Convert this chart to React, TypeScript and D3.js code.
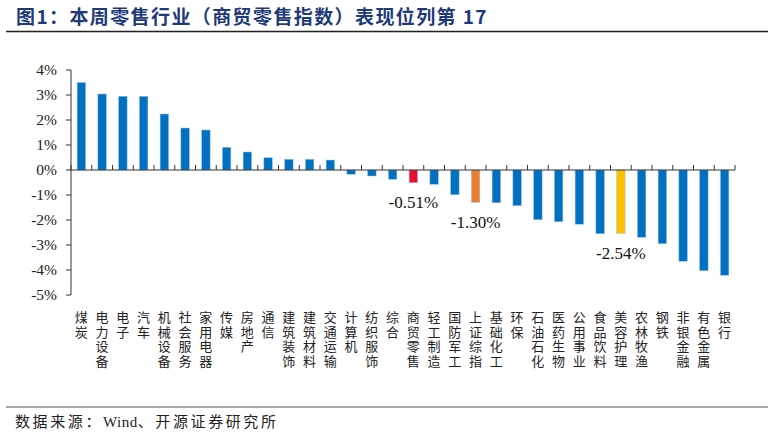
import * as d3 from "d3";

const categories = [
  "煤炭", "电力设备", "电子", "汽车", "机械设备", "社会服务", "家用电器", "传媒",
  "房地产", "通信", "建筑装饰", "建筑材料", "交通运输", "计算机", "纺织服饰", "综合",
  "商贸零售", "轻工制造", "国防军工", "上证综指", "基础化工", "环保", "石油石化", "医药生物",
  "公用事业", "食品饮料", "美容护理", "农林牧渔", "钢铁", "非银金融", "有色金属", "银行",
];
const values = [
  3.5, 3.04, 2.95, 2.95, 2.24, 1.68, 1.6, 0.91,
  0.72, 0.49, 0.43, 0.43, 0.4, -0.17, -0.24, -0.37,
  -0.51, -0.57, -0.99, -1.3, -1.31, -1.43, -1.99, -2.07,
  -2.17, -2.55, -2.54, -2.69, -2.95, -3.65, -4.03, -4.21,
];
const yTicks = [4, 3, 2, 1, 0, -1, -2, -3, -4, -5];
const highlight: Record<string, string> = {
  "商贸零售": "#E8102C",
  "上证综指": "#ED7D31",
  "美容护理": "#FFC000",
};
const labelled = ["商贸零售", "上证综指", "美容护理"];

const W = 774;
const H = 436;
const serif = "'Liberation Serif', 'Times New Roman', serif";
const cjk = "'Noto Sans CJK SC', sans-serif";

export default function App() {
  const x = d3.scaleBand<string>()
    .domain(categories)
    .range([71, 735])
    .paddingInner(0.59)
    .paddingOuter(0.295);
  const y = d3.scaleLinear().domain([-5, 4]).range([295, 70]);
  const step = x.step();
  const x0 = 71;

  return (
    <svg width={W} height={H} style={{ position: "absolute", left: 0, top: 0, background: "#fff" }}>
      <text x={16} y={24} fill="#1F3A7A" fontFamily={cjk} fontWeight="bold" fontSize={19} letterSpacing={1.4}>
        图1：本周零售行业（商贸零售指数）表现位列第 17
      </text>
      <line x1={6} x2={768} y1={31.5} y2={31.5} stroke="#222" strokeWidth={1.5} />

      {/* y axis */}
      <line x1={x0} x2={x0} y1={y(4)} y2={y(-5)} stroke="#333" strokeWidth={1} />
      {yTicks.map(t => (
        <g key={t}>
          <line x1={x0 - 5} x2={x0} y1={y(t)} y2={y(t)} stroke="#333" />
          <text x={57} y={y(t)} dy="0.35em" textAnchor="end" fontFamily={serif} fontSize={15.5} fill="#222">
            {t}%
          </text>
        </g>
      ))}

      {/* bars */}
      {categories.map((c, i) => {
        const v = values[i];
        return (
          <rect
            key={c}
            x={x(c)!}
            y={Math.min(y(v), y(0))}
            width={x.bandwidth()}
            height={Math.abs(y(v) - y(0))}
            fill={highlight[c] ?? "#0070C0"}
            stroke="#9DC3E6"
            strokeWidth={0.5}
          />
        );
      })}

      {/* zero axis with ticks */}
      <line x1={x0} x2={735} y1={y(0)} y2={y(0)} stroke="#333" />
      {d3.range(categories.length + 1).map(i => (
        <line key={i} x1={x0 + i * step} x2={x0 + i * step} y1={y(0) - 5} y2={y(0)} stroke="#333" />
      ))}

      {/* value labels */}
      {labelled.map(c => {
        const v = values[categories.indexOf(c)];
        return (
          <text key={c} x={x(c)! + x.bandwidth() / 2} y={y(v) + 25} textAnchor="middle"
            fontFamily={serif} fontSize={17} fill="#111">
            {v.toFixed(2)}%
          </text>
        );
      })}

      {/* category labels, one character per line */}
      {categories.map(c =>
        Array.from(c).map((ch, j) => (
          <text key={c + j} x={x(c)! + x.bandwidth() / 2} y={322 + j * 14.5}
            fontFamily={cjk} fontSize={13} fill="#222" textAnchor="middle">
            {ch}
          </text>
        ))
      )}

      <line x1={6} x2={768} y1={407} y2={407} stroke="#888" strokeWidth={1.5} />
      <text x={15} y={427} fontFamily={cjk} fontSize={15} fill="#222" letterSpacing={2.6}>
        数据来源：<tspan fontFamily={serif} letterSpacing={0.5}>Wind</tspan>、开源证券研究所
      </text>
    </svg>
  );
}
